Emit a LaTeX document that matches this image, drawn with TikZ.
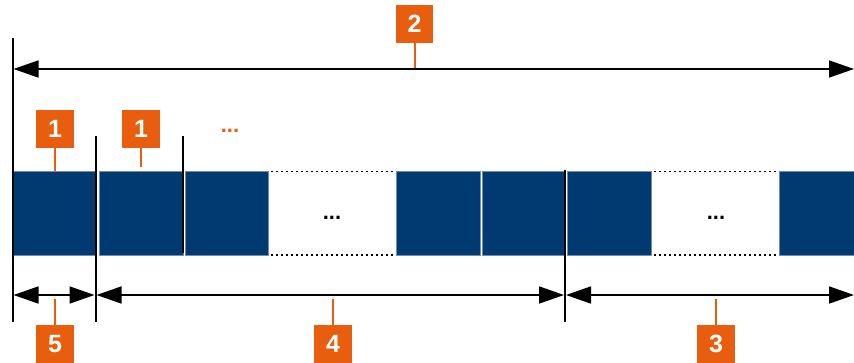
\documentclass[tikz,border=0pt]{standalone}
\usepackage{fontspec}
\setmainfont{Liberation Sans}
\usetikzlibrary{arrows.meta}
\definecolor{rsblue}{RGB}{0,58,112}
\definecolor{rsedge}{RGB}{110,140,180}
\definecolor{rsorange}{RGB}{232,93,14}
\tikzset{
  blk/.style={fill=rsblue,draw=rsedge,line width=0.8pt},
  dotline/.style={line width=1.6pt,dash pattern=on 1.6pt off 3.4pt},
  tick/.style={line width=2pt},
  dim/.style={line width=1.7pt,{Triangle[length=25pt,width=17pt]}-{Triangle[length=25pt,width=17pt]}},
  lab/.style={fill=rsorange,text=white,font=\bfseries\fontsize{25}{25}\selectfont,minimum width=37.5pt,minimum height=37.5pt,inner sep=0pt},
  lead/.style={draw=rsorange,line width=2pt},
  ell/.style={font=\bfseries\fontsize{22}{22}\selectfont}
}
\begin{document}
\begin{tikzpicture}[x=1pt,y=-1pt]
\useasboundingbox (0,0) rectangle (854,362);
% blocks
\fill[blk] (13,171.5) rectangle (95,255);
\fill[blk] (99,171.5) rectangle (183,255);
\fill[blk] (185,171.5) rectangle (268.5,255);
\fill[blk] (396.5,171.5) rectangle (480.5,255);
\fill[blk] (482,171.5) rectangle (564.5,255);
\fill[blk] (567.5,171.5) rectangle (651.5,255);
\fill[blk] (779.5,171.5) rectangle (856,255);
% dotted gaps
\draw[dotline] (271,171.5) -- (395,171.5);
\draw[dotline] (271,255) -- (395,255);
\draw[dotline] (654,171.5) -- (778,171.5);
\draw[dotline] (654,255) -- (778,255);
\node[ell] (g1) at (332,218) {...};
\node[ell] (g2) at (716,218) {...};
% vertical ticks
\coordinate (v0t) at (12.5,38);
\coordinate (v0b) at (12.5,322);
\coordinate (v1t) at (95.5,136);
\coordinate (v1b) at (95.5,322);
\coordinate (v2t) at (183,136);
\coordinate (v2b) at (183,253);
\coordinate (v3t) at (565,170);
\coordinate (v3b) at (565,322);
\draw[tick] (v0t) -- (v0b);
\draw[tick] (v1t) -- (v1b);
\draw[tick] (v2t) -- (v2b);
\draw[tick] (v3t) -- (v3b);
% dimension arrows
\coordinate (a2l) at (13.5,69);
\coordinate (a2r) at (854,69);
\coordinate (a5l) at (13.5,295);
\coordinate (a5r) at (94.5,295);
\coordinate (a4l) at (96.5,295);
\coordinate (a4r) at (564,295);
\coordinate (a3l) at (566,295);
\coordinate (a3r) at (854,295);
\draw[dim] (a2l) -- (a2r);
\draw[dim] (a5l) -- (a5r);
\draw[dim] (a4l) -- (a4r);
\draw[dim] (a3l) -- (a3r);
% labels
\node[lab] (l2) at (414.5,24) {2};
\coordinate (p2) at (414.5,68);
\draw[lead] (l2.south) -- (p2);
\node[lab] (l1a) at (55,129) {1};
\coordinate (p1a) at (55,171);
\draw[lead] (l1a.south) -- (p1a);
\node[lab] (l1b) at (141,129) {1};
\coordinate (p1b) at (141,167);
\draw[lead] (l1b.south) -- (p1b);
\node[ell,text=rsorange] (o1) at (230,131) {...};
\node[lab] (l5) at (55,344) {5};
\coordinate (p5) at (55,299);
\draw[lead] (l5.north) -- (p5);
\node[lab] (l4) at (333,344) {4};
\coordinate (p4) at (333,299);
\draw[lead] (l4.north) -- (p4);
\node[lab] (l3) at (716,344) {3};
\coordinate (p3) at (716,299);
\draw[lead] (l3.north) -- (p3);
\end{tikzpicture}
\end{document}
